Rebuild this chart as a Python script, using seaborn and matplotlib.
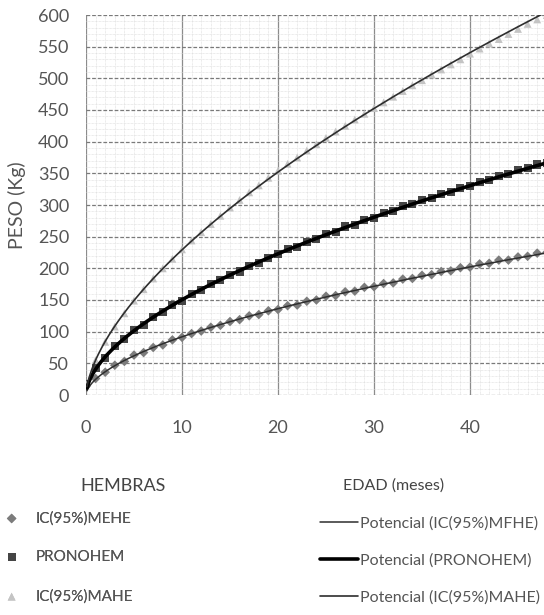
import numpy as np
import pandas as pd
import matplotlib
matplotlib.use("Agg")
import matplotlib.pyplot as plt
import seaborn as sns
from matplotlib.ticker import MultipleLocator

# ---------------- data ----------------
edad = list(range(0, 49))  # months
mehe = [14, 26, 36, 47, 53, 63, 67, 75, 79, 87, 91, 97, 101, 107, 110, 116, 119,
        125, 127, 133, 135, 141, 142, 148, 150, 156, 157, 163, 164, 170, 171, 176,
        177, 183, 184, 189, 190, 195, 196, 201, 202, 207, 208, 213, 213, 218, 219,
        224, 225]
pronohem = [18, 42, 59, 77, 88, 102, 111, 123, 131, 142, 149, 159, 166, 175, 181,
            190, 195, 204, 209, 217, 222, 230, 234, 242, 246, 254, 258, 266, 269,
            277, 280, 287, 291, 298, 301, 308, 311, 318, 321, 327, 330, 337, 339,
            346, 349, 355, 358, 364, 366]
mahe = [17, 55, 84, 108, 129, 149, 167, 184, 200, 215, 230, 244, 257, 270, 283,
        296, 308, 320, 331, 343, 354, 365, 375, 386, 396, 406, 416, 425, 435, 444,
        453, 462, 471, 480, 489, 497, 506, 514, 522, 530, 539, 547, 555, 562, 570,
        578, 586, 593, 600]

series_labels = ["IC(95%)MEHE", "PRONOHEM", "IC(95%)MAHE"]
trend_labels = ["Potencial (IC(95%)MFHE)", "Potencial (PRONOHEM)",
                "Potencial (IC(95%)MAHE)"]
x_ticks = [0, 10, 20, 30, 40]
y_ticks = list(range(0, 601, 50))

# ---------------- style ----------------
sns.set_style("white")
plt.rcParams['font.family'] = ['Lato', 'DejaVu Sans']

W, H = 544, 615
fig = plt.figure(figsize=(W / 100, H / 100), dpi=100)
ax = fig.add_axes([86 / W, 1 - 395 / H, 460.8 / W, 380 / H])

df = pd.DataFrame({"edad": edad, "MEHE": mehe, "PRONOHEM": pronohem, "MAHE": mahe})

marker_styles = [
    ("MEHE", "D", "#7c7c7c", 24),
    ("PRONOHEM", "s", "#454545", 34),
    ("MAHE", "^", "#c4c4c4", 32),
]
line_styles = [
    ("MEHE", "#2e2e2e", 1.1),
    ("PRONOHEM", "#000000", 2.6),
    ("MAHE", "#2e2e2e", 1.2),
]

# scatter points
for (col, mk, c, s), lab in zip(marker_styles, series_labels):
    sns.scatterplot(data=df, x="edad", y=col, marker=mk, color=c, s=s,
                    edgecolor="none", ax=ax, label=lab, zorder=3)

# power trend lines (Excel "Potencial" fit: ln y = ln a + b ln x)
for (col, c, lw), lab in zip(line_styles, trend_labels):
    sub = df[df["edad"] > 0]
    b, lna = np.polyfit(np.log(sub["edad"]), np.log(sub[col]), 1)
    xf = np.linspace(0.1, 48, 400)
    yf = np.exp(lna) * xf ** b
    sns.lineplot(x=xf, y=yf, color=c, lw=lw, ax=ax, label=lab, zorder=4)

handles, labels = ax.get_legend_handles_labels()
if ax.get_legend() is not None:
    ax.get_legend().remove()

# ---------------- axes ----------------
ax.set_xlim(0, 48)
ax.set_ylim(0, 600)
ax.set_xticks(x_ticks)
ax.set_yticks(y_ticks)
ax.xaxis.set_minor_locator(MultipleLocator(1))
ax.yaxis.set_minor_locator(MultipleLocator(10))
ax.set_axisbelow(True)
ax.grid(which="minor", axis="both", color="#d9d9d9", lw=0.5, ls=(0, (1, 1)))
ax.grid(which="major", axis="x", color="#8c8c8c", lw=0.9, ls="-")
ax.grid(which="major", axis="y", color="#7a7a7a", lw=0.9, ls=(0, (3, 1.5)))
for sp in ax.spines.values():
    sp.set_visible(False)
ax.tick_params(axis="x", which="major", length=5, color="#888888", pad=13,
               labelsize=13, labelcolor="#555555", direction="out")
ax.tick_params(axis="y", which="major", length=4, color="#888888", pad=8,
               labelsize=13, labelcolor="#555555", direction="out")
ax.tick_params(which="minor", length=0)
ax.set_xlabel("")
ax.set_ylabel("PESO (Kg)", fontsize=14, color="#555555")
ax.yaxis.set_label_coords(-0.13, 0.5)

# ---------------- texts & legends below ----------------
fs_leg = 11
fs_leg2 = 11.5
fig.text(80 / W, 1 - 486 / H, "HEMBRAS", ha="left", va="center",
         fontsize=13, color="#444444")
fig.text(343 / W, 1 - 486 / H, "EDAD (meses)", ha="left", va="center",
         fontsize=11.5, color="#444444")

row1 = fs_leg * 1.389 * 0.58
leg1 = fig.legend(handles=handles[:3], labels=labels[:3], loc="upper left",
                  bbox_to_anchor=(4 / W, 1 - (520 - row1) / H), frameon=False,
                  prop={"size": fs_leg},
                  labelspacing=1.63, handlelength=1.0,
                  handletextpad=1.05, borderpad=0, borderaxespad=0,
                  labelcolor="#555555")
row2 = fs_leg2 * 1.389 * 0.58
leg2 = fig.legend(handles=handles[3:], labels=labels[3:], loc="upper left",
                  bbox_to_anchor=(320 / W, 1 - (526 - row2) / H), frameon=False,
                  prop={"size": fs_leg2},
                  labelspacing=1.4, handlelength=2.4,
                  handletextpad=0.12, borderpad=0, borderaxespad=0,
                  labelcolor="#555555")
fig.add_artist(leg1)

fig.savefig("out.png", dpi=100)
